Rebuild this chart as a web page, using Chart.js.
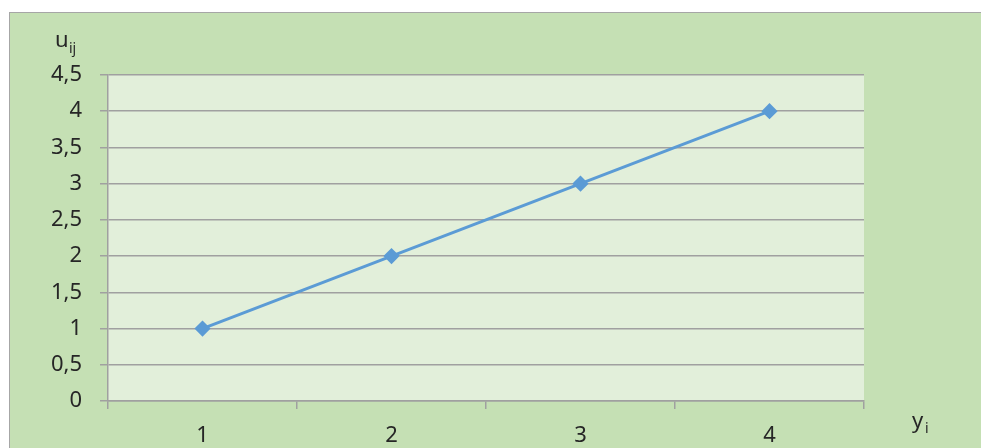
<!DOCTYPE html>
<html lang="ru">
<head>
    <meta charset="UTF-8">
    <title>u_ij vs y_i</title>
    <script src="https://cdn.jsdelivr.net/npm/chart.js"></script>
    <style>
        body { margin: 0; background: #ffffff; }
        canvas { display: block; }
    </style>
</head>
<body>
    <canvas id="chart" width="981" height="448"></canvas>
    <script>
        // data
        const categories = ['1', '2', '3', '4'];
        const uValues = [1, 2, 3, 4];
        const yTicks = [0, 0.5, 1, 1.5, 2, 2.5, 3, 3.5, 4, 4.5];

        const FONT = '"Noto Sans", "Open Sans", sans-serif';
        const TEXT = '#262626';
        const GRID = '#a0a0a0';

        // outer green panel + plot background, axis titles with subscripts
        const backgroundPlugin = {
            id: 'panel',
            beforeDraw(chart) {
                const c = chart.ctx, a = chart.chartArea;
                c.save();
                c.fillStyle = '#c5e0b4';
                c.fillRect(9, 12, chart.width, chart.height);
                c.strokeStyle = '#a6a6a6';
                c.lineWidth = 1;
                c.strokeRect(9.5, 12.5, chart.width + 10, chart.height + 10);
                c.fillStyle = '#e2efda';
                c.fillRect(a.left, a.top, a.right - a.left, a.bottom - a.top);
                c.restore();
            },
            afterDraw(chart) {
                const c = chart.ctx;
                c.save();
                c.fillStyle = TEXT;
                c.textBaseline = 'alphabetic';
                c.font = '22px ' + FONT;
                c.fillText('u', 55, 47);
                c.font = '14px ' + FONT;
                c.fillText('ij', 69, 53);
                c.font = '22px ' + FONT;
                c.fillText('y', 912, 428);
                c.font = '14px ' + FONT;
                c.fillText('i', 925, 433);
                c.restore();
            }
        };

        new Chart(document.getElementById('chart'), {
            type: 'line',
            data: {
                labels: categories,
                datasets: [{
                    data: uValues,
                    borderColor: '#5b9bd5',
                    backgroundColor: '#5b9bd5',
                    borderWidth: 3,
                    pointStyle: 'rectRot',
                    pointRadius: 6,
                    pointHoverRadius: 6,
                    tension: 0
                }]
            },
            options: {
                responsive: false,
                animation: false,
                devicePixelRatio: 1,
                layout: { padding: { left: 0, top: 75, right: 117, bottom: 0 } },
                plugins: { legend: { display: false }, tooltip: { enabled: false } },
                scales: {
                    x: {
                        offset: true,
                        afterFit(s) { s.height = 47; },
                        grid: {
                            offset: true,
                            drawOnChartArea: false,
                            color: GRID,
                            lineWidth: 1.5,
                            tickLength: 8
                        },
                        border: { color: GRID, width: 1.5 },
                        ticks: {
                            color: TEXT,
                            padding: 14,
                            font: { family: FONT, size: 22 },
                            maxRotation: 0
                        }
                    },
                    y: {
                        min: 0,
                        max: 4.5,
                        afterFit(s) { s.width = 108; },
                        afterBuildTicks(s) { s.ticks = yTicks.map(v => ({ value: v })); },
                        grid: { color: GRID, lineWidth: 1.5, tickLength: 8 },
                        border: { color: GRID, width: 1.5 },
                        ticks: {
                            color: TEXT,
                            padding: 18,
                            font: { family: FONT, size: 22 },
                            callback: v => String(v).replace('.', ',')
                        }
                    }
                }
            },
            plugins: [backgroundPlugin]
        });
    </script>
</body>
</html>
